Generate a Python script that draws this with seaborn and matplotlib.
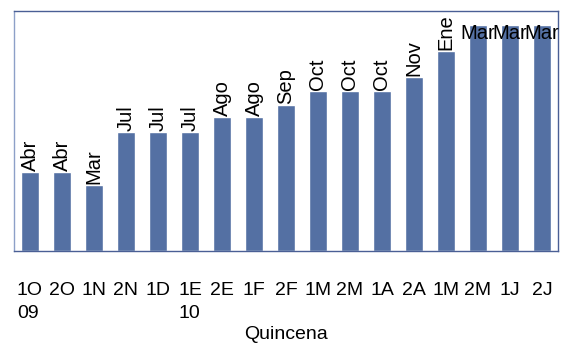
import matplotlib
matplotlib.use("Agg")
import matplotlib.pyplot as plt
import seaborn as sns
import pandas as pd
from matplotlib import font_manager

quincenas = ["1O\n09", "2O", "1N", "2N", "1D", "1E\n10", "2E", "1F", "2F",
             "1M", "2M", "1A", "2A", "1M", "2M", "1J", "2J"]
values = [79, 79, 66, 119, 119, 119, 134, 134, 146, 160, 160, 160, 174, 200, 226, 226, 226]
months = ["Abr", "Abr", "Mar", "Jul", "Jul", "Jul", "Ago", "Ago", "Sep",
          "Oct", "Oct", "Oct", "Nov", "Ene", "Mar", "Mar", "Mar"]

names = {f.name for f in font_manager.fontManager.ttflist}
fam = ["Liberation Sans Narrow", "Liberation Sans", "DejaVu Sans"]
fam = [f for f in fam if f in names] or ["DejaVu Sans"]

sns.set_style("white")
plt.rcParams["font.family"] = fam
plt.rcParams["text.color"] = "black"
plt.rcParams["xtick.color"] = "black"
plt.rcParams["axes.labelcolor"] = "black"

df = pd.DataFrame({"q": range(len(values)), "v": values})

fig = plt.figure(figsize=(5.63, 3.49), dpi=100)
ax = fig.add_axes([14/563, 98/349, 544/563, 240/349])
sns.barplot(data=df, x="q", y="v", color="#5470a3", saturation=1, width=0.56, ax=ax)
ax.set_xlim(-0.5, len(values) - 0.5)
ax.set_ylim(0, 240)
ax.set_yticks([])
ax.set_xticks(range(len(values)))
ax.set_xticklabels(quincenas, fontsize=14, multialignment="left", linespacing=1.5)
ax.tick_params(axis="x", length=0, pad=22, colors="black")
ax.set_xlabel("Quincena", fontsize=14, labelpad=3, color="black")
ax.set_ylabel("")
for s in ax.spines.values():
    s.set_visible(True)
    s.set_color("#4a5f95")
    s.set_linewidth(1.0)
ax.spines["left"].set_color("#8da0c8")

n = len(values)
for i, (v, m) in enumerate(zip(values, months)):
    if i >= n - 3:
        ax.annotate(m, (i, v), xytext=(0, 1), textcoords="offset points",
                    ha="center", va="top", fontsize=14.5, color="black")
    else:
        ax.annotate(m, (i, v), xytext=(0, 1), textcoords="offset points",
                    ha="center", va="bottom", rotation=90, fontsize=14.5, color="black")

fig.savefig("out.png", dpi=100)
